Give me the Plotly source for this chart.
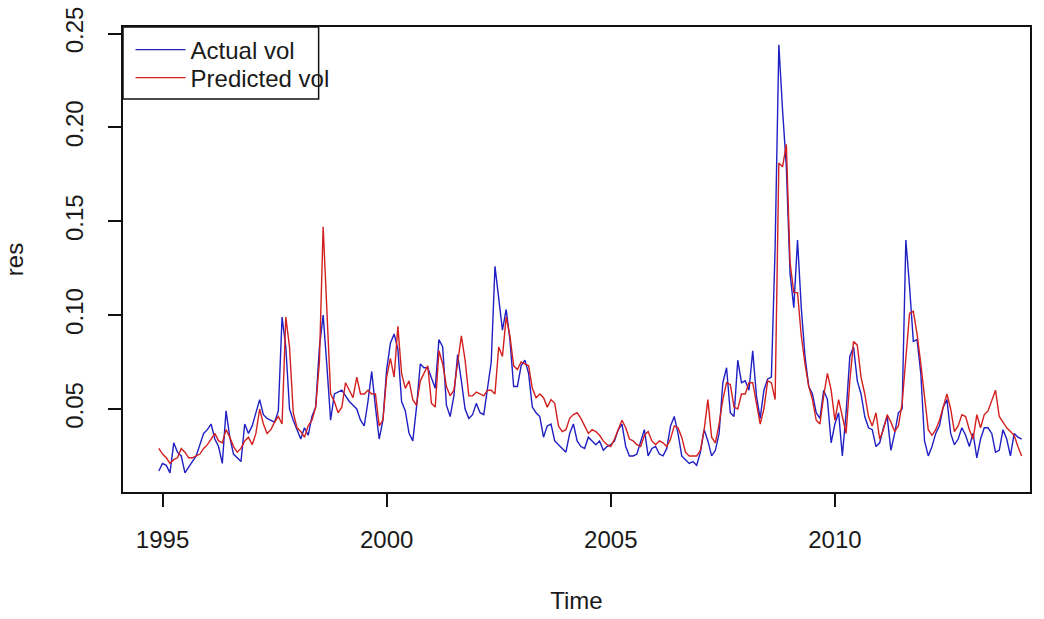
import plotly.graph_objects as go

# Monthly series, starting Dec 1994 (R ts: start=c(1994,12), frequency=12)
start_year = 1994
start_month = 12
freq = 12

actual_vol = [
    0.017,
    0.021, 0.020, 0.016, 0.032, 0.027, 0.025, 0.016, 0.019, 0.022, 0.025, 0.031, 0.037,
    0.039, 0.042, 0.034, 0.030, 0.021, 0.049, 0.035, 0.026, 0.024, 0.022, 0.042, 0.037,
    0.041, 0.048, 0.055, 0.047, 0.045, 0.044, 0.043, 0.049, 0.099, 0.083, 0.050, 0.044,
    0.039, 0.034, 0.040, 0.036, 0.046, 0.051, 0.083, 0.100, 0.073, 0.044, 0.058, 0.059,
    0.060, 0.057, 0.054, 0.052, 0.050, 0.044, 0.041, 0.054, 0.070, 0.051, 0.034, 0.044,
    0.071, 0.085, 0.090, 0.082, 0.054, 0.049, 0.037, 0.033, 0.051, 0.074, 0.072, 0.072,
    0.067, 0.061, 0.087, 0.083, 0.052, 0.046, 0.057, 0.079, 0.065, 0.050, 0.045, 0.047,
    0.053, 0.048, 0.047, 0.062, 0.075, 0.126, 0.110, 0.092, 0.103, 0.087, 0.062, 0.062,
    0.073, 0.076, 0.069, 0.051, 0.048, 0.046, 0.035, 0.041, 0.042, 0.033, 0.031, 0.029,
    0.027, 0.037, 0.042, 0.033, 0.030, 0.029, 0.035, 0.033, 0.031, 0.033, 0.028, 0.030,
    0.031, 0.033, 0.039, 0.042, 0.030, 0.025, 0.025, 0.026, 0.033, 0.039, 0.025, 0.029,
    0.030, 0.026, 0.025, 0.029, 0.041, 0.046, 0.037, 0.025, 0.023, 0.021, 0.022, 0.020,
    0.027, 0.039, 0.033, 0.025, 0.028, 0.037, 0.064, 0.072, 0.048, 0.046, 0.076, 0.064,
    0.065, 0.060, 0.081, 0.057, 0.045, 0.060, 0.066, 0.067, 0.136, 0.244, 0.209, 0.179,
    0.122, 0.104, 0.140, 0.104, 0.078, 0.062, 0.058, 0.048, 0.045, 0.060, 0.055, 0.032,
    0.042, 0.048, 0.025, 0.048, 0.078, 0.083, 0.065, 0.058, 0.046, 0.040, 0.039, 0.030,
    0.032, 0.040, 0.046, 0.028, 0.037, 0.048, 0.050, 0.140, 0.115, 0.086, 0.087, 0.069,
    0.033, 0.025, 0.030, 0.037, 0.041, 0.051, 0.055, 0.037, 0.031, 0.034, 0.040, 0.036,
    0.030, 0.037, 0.024, 0.034, 0.040, 0.040, 0.037, 0.027, 0.028, 0.039, 0.034, 0.025,
    0.037, 0.035, 0.034,
]

predicted_vol = [
    0.029,
    0.026, 0.024, 0.021, 0.023, 0.024, 0.029, 0.027, 0.024, 0.024, 0.025, 0.026, 0.029,
    0.031, 0.034, 0.037, 0.033, 0.032, 0.039, 0.035, 0.030, 0.027, 0.029, 0.033, 0.035,
    0.031, 0.037, 0.050, 0.042, 0.037, 0.039, 0.043, 0.046, 0.042, 0.099, 0.083, 0.048,
    0.040, 0.038, 0.035, 0.041, 0.044, 0.051, 0.075, 0.147, 0.100, 0.058, 0.054, 0.048,
    0.051, 0.064, 0.060, 0.056, 0.067, 0.058, 0.058, 0.060, 0.058, 0.058, 0.041, 0.044,
    0.067, 0.077, 0.067, 0.094, 0.069, 0.061, 0.065, 0.055, 0.052, 0.065, 0.069, 0.073,
    0.053, 0.051, 0.081, 0.074, 0.062, 0.057, 0.060, 0.076, 0.089, 0.076, 0.057, 0.057,
    0.059, 0.058, 0.057, 0.060, 0.060, 0.058, 0.083, 0.078, 0.099, 0.089, 0.073, 0.071,
    0.075, 0.074, 0.073, 0.061, 0.056, 0.058, 0.056, 0.051, 0.055, 0.053, 0.041, 0.038,
    0.039, 0.045, 0.047, 0.048, 0.045, 0.041, 0.037, 0.039, 0.038, 0.036, 0.033, 0.031,
    0.030, 0.034, 0.039, 0.044, 0.040, 0.034, 0.033, 0.031, 0.030, 0.036, 0.038, 0.033,
    0.031, 0.033, 0.032, 0.030, 0.034, 0.041, 0.040, 0.035, 0.027, 0.025, 0.025, 0.025,
    0.028, 0.039, 0.055, 0.035, 0.032, 0.042, 0.055, 0.064, 0.063, 0.051, 0.050, 0.058,
    0.058, 0.064, 0.064, 0.053, 0.042, 0.050, 0.065, 0.064, 0.055, 0.181, 0.179, 0.191,
    0.128, 0.112, 0.112, 0.089, 0.074, 0.062, 0.055, 0.044, 0.042, 0.057, 0.069, 0.060,
    0.044, 0.055, 0.046, 0.037, 0.065, 0.086, 0.084, 0.067, 0.058, 0.046, 0.041, 0.048,
    0.034, 0.039, 0.047, 0.043, 0.038, 0.041, 0.053, 0.076, 0.101, 0.102, 0.090, 0.074,
    0.058, 0.039, 0.036, 0.039, 0.044, 0.051, 0.058, 0.050, 0.038, 0.041, 0.047, 0.046,
    0.039, 0.034, 0.047, 0.040, 0.047, 0.049, 0.055, 0.060, 0.046, 0.043, 0.040, 0.038,
    0.036, 0.030, 0.025,
]

x_tick_vals = [1995, 2000, 2005, 2010]
x_tick_text = ["1995", "2000", "2005", "2010"]
y_tick_vals = [0.05, 0.10, 0.15, 0.20, 0.25]
y_tick_text = ["0.05", "0.10", "0.15", "0.20", "0.25"]

# time index like R's time(ts)
t0 = start_year + (start_month - 1) / freq
time_actual = [t0 + k / freq for k in range(len(actual_vol))]
time_pred = [t0 + k / freq for k in range(len(predicted_vol))]

FONT = "Arial, 'Liberation Sans', sans-serif"
TXT = "#1a1a1a"
BLUE = "#1f1fc4"
RED = "#d41f1f"

fig = go.Figure()
fig.add_trace(go.Scatter(x=time_actual, y=actual_vol, mode="lines",
                         name="Actual vol", legend="legend",
                         line=dict(color=BLUE, width=1.4)))
fig.add_trace(go.Scatter(x=time_pred, y=predicted_vol, mode="lines",
                         name="Predicted vol", legend="legend2",
                         line=dict(color=RED, width=1.4)))

axis_common = dict(
    showgrid=False, zeroline=False, automargin=False,
    showline=True, linecolor="#111111", linewidth=1.5, mirror=True,
    ticks="outside", ticklen=13, tickwidth=1.5, tickcolor="#111111",
    tickfont=dict(family=FONT, size=24, color=TXT),
)

legend_common = dict(
    xanchor="left", yanchor="middle",
    bgcolor="rgba(0,0,0,0)", borderwidth=0,
    font=dict(family=FONT, size=24, color=TXT),
    itemwidth=50,
)

fig.update_layout(
    width=1044, height=619,
    margin=dict(l=123, r=14, t=27, b=127, autoexpand=False),
    paper_bgcolor="white", plot_bgcolor="white",
    font=dict(family=FONT, size=24, color=TXT),
    xaxis=dict(range=[1994.118, 2014.353], tickvals=x_tick_vals, ticktext=x_tick_text,
               ticklabelstandoff=12,
               title=dict(text="Time", font=dict(family=FONT, size=24, color=TXT), standoff=41),
               **axis_common),
    yaxis=dict(range=[0.00579, 0.25346], tickvals=y_tick_vals, ticktext=y_tick_text,
               tickangle=-90, ticklabelstandoff=16,
               title=dict(text="res", font=dict(family=FONT, size=24, color=TXT), standoff=30),
               **axis_common),
    showlegend=True,
    legend=dict(x=0.0083, y=1 - (50 - 27) / 465, **legend_common),
    legend2=dict(x=0.0083, y=1 - (78 - 27) / 465, **legend_common),
    shapes=[dict(type="rect", xref="paper", yref="paper",
                 x0=0, x1=0.2157, y0=0.845, y1=1.0,
                 line=dict(color="#111111", width=1.5), fillcolor="rgba(0,0,0,0)")],
)

fig.write_html("out.html", config={"displayModeBar": False},
               post_script="document.body.style.margin='0px';")
